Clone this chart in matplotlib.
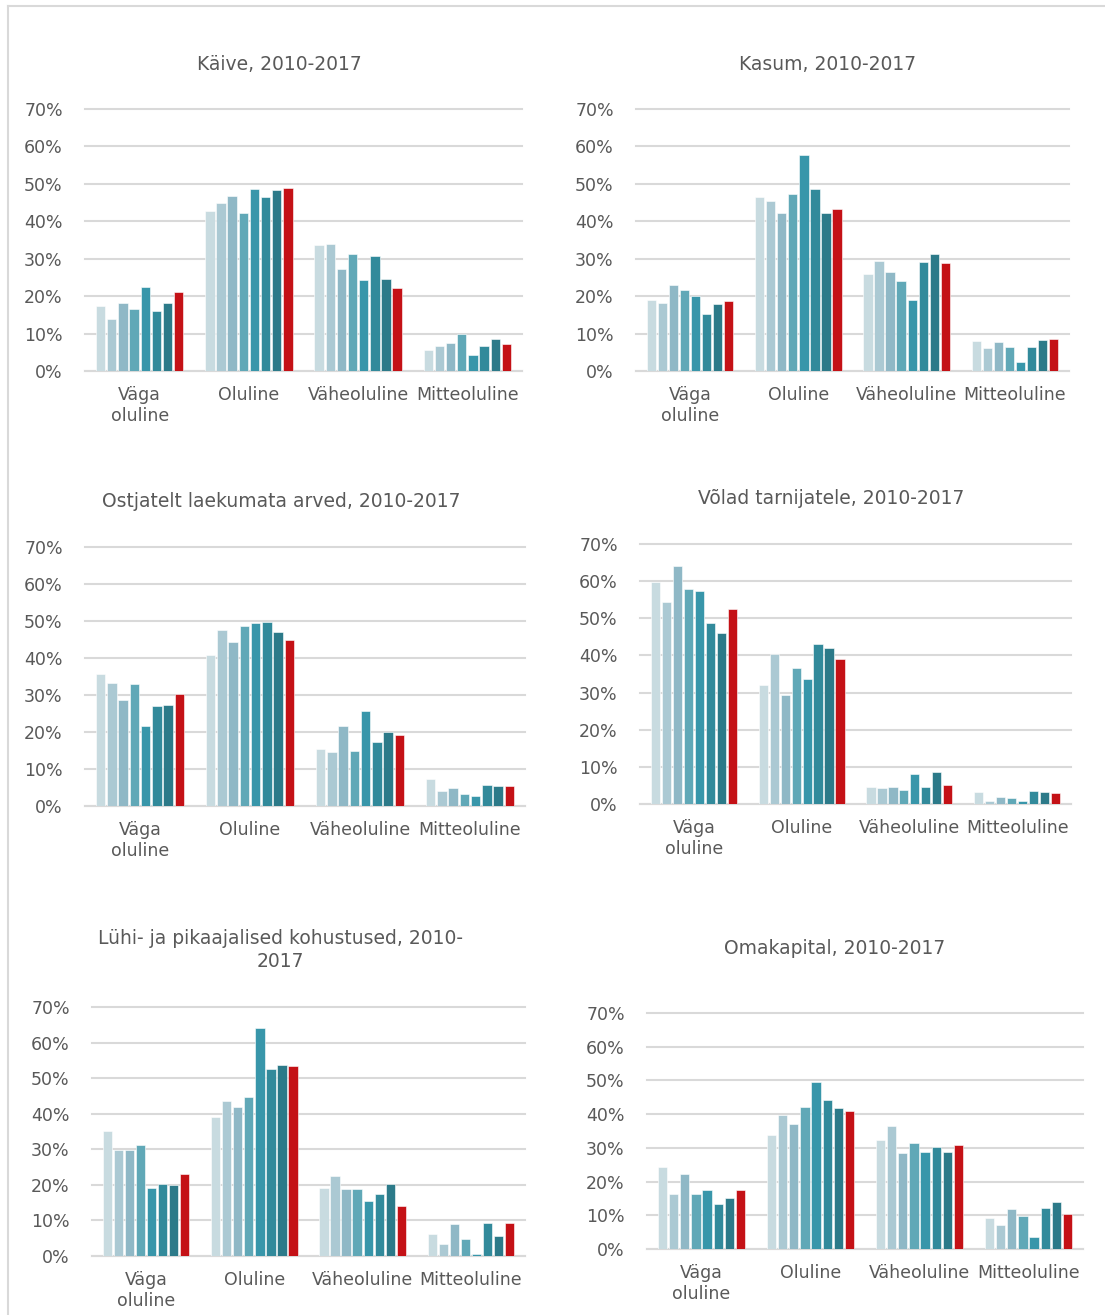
import matplotlib
matplotlib.use("Agg")
import matplotlib.pyplot as plt
import numpy as np
from matplotlib.lines import Line2D

# --- data (share of firms, %, years 2010..2017) ---
categories = ["Väga\noluline", "Oluline", "Väheoluline", "Mitteoluline"]
years = [2010, 2011, 2012, 2013, 2014, 2015, 2016, 2017]

kaive = [
    [17.4, 13.9, 18.2, 16.5, 22.4, 15.9, 18.3, 21.2],
    [42.7, 44.9, 46.7, 42.1, 48.6, 46.4, 48.4, 48.9],
    [33.7, 34.0, 27.2, 31.3, 24.2, 30.6, 24.5, 22.2],
    [5.6, 6.7, 7.5, 9.8, 4.4, 6.7, 8.5, 7.2],
]
kasum = [
    [19.1, 18.3, 22.9, 21.6, 20.0, 15.3, 17.9, 18.7],
    [46.5, 45.5, 42.3, 47.4, 57.7, 48.5, 42.2, 43.3],
    [25.8, 29.4, 26.4, 24.0, 19.1, 29.1, 31.2, 28.9],
    [7.9, 6.2, 7.7, 6.5, 2.5, 6.3, 8.2, 8.5],
]
arved = [
    [35.7, 33.2, 28.7, 32.9, 21.7, 27.1, 27.3, 30.2],
    [40.9, 47.7, 44.2, 48.6, 49.4, 49.6, 47.1, 44.8],
    [15.5, 14.5, 21.7, 14.8, 25.6, 17.2, 20.0, 19.1],
    [7.4, 4.0, 4.9, 3.2, 2.8, 5.6, 5.3, 5.5],
]
volad = [
    [59.9, 54.4, 64.0, 57.8, 57.3, 48.7, 46.0, 52.4],
    [32.1, 40.4, 29.4, 36.7, 33.6, 43.0, 42.0, 39.0],
    [4.7, 4.2, 4.6, 3.9, 8.2, 4.5, 8.6, 5.2],
    [3.2, 0.7, 1.9, 1.5, 0.9, 3.6, 3.2, 3.0],
]
kohustused = [
    [35.1, 29.7, 29.9, 31.2, 19.1, 20.3, 20.0, 23.0],
    [39.1, 43.7, 41.8, 44.6, 64.2, 52.5, 53.6, 53.4],
    [19.1, 22.5, 18.8, 18.9, 15.5, 17.5, 20.3, 14.1],
    [6.2, 3.4, 8.9, 4.8, 0.7, 9.2, 5.6, 9.2],
]
omakapital = [
    [24.3, 16.3, 22.3, 16.4, 17.6, 13.3, 15.2, 17.4],
    [33.7, 39.8, 37.0, 42.1, 49.6, 44.1, 41.8, 40.9],
    [32.3, 36.5, 28.6, 31.5, 28.9, 30.2, 28.9, 30.9],
    [9.3, 7.1, 11.8, 9.9, 3.7, 12.2, 13.8, 10.4],
]

titles = [
    "Käive, 2010-2017",
    "Kasum, 2010-2017",
    "Ostjatelt laekumata arved, 2010-2017",
    "Võlad tarnijatele, 2010-2017",
    "Lühi- ja pikaajalised kohustused, 2010-\n2017",
    "Omakapital, 2010-2017",
]
panels = [kaive, kasum, arved, volad, kohustused, omakapital]

year_colors = ["#c8dbe0", "#abc9d3", "#8fb8c6", "#60a8b7",
               "#3896aa", "#328a9b", "#2c7a89", "#c41116"]
TEXT = "#595959"
GRID = "#d9d9d9"

W, H = 1105, 1315
# plot areas in pixels: (x_left, x_right, y_zero, y_70), title (x, y)
boxes = [
    (85, 522, 371, 109, 279, 64),
    (636, 1069, 371, 109, 828, 64),
    (85, 525, 806, 547, 281, 501),
    (640, 1071, 804, 544, 831, 498),
    (92, 525, 1256, 1007, 280, 950),
    (647, 1083, 1249, 1013, 835, 948),
]

plt.rcParams["font.family"] = ["DejaVu Sans"]
fig = plt.figure(figsize=(W / 100, H / 100), dpi=100)

# outer frame (top and left edges visible)
fig.add_artist(Line2D([8 / W, 1.0], [1 - 6 / H, 1 - 6 / H], color=GRID, lw=1.5))
fig.add_artist(Line2D([8 / W, 8 / W], [0.0, 1 - 6 / H], color=GRID, lw=1.5))

x = np.arange(len(categories))
step = 0.102
for data, title, (xl, xr, y0, y70, tx, ty) in zip(panels, titles, boxes):
    ax = fig.add_axes([xl / W, 1 - y0 / H, (xr - xl) / W, (y0 - y70) / H])
    vals = np.array(data) / 100.0
    for j, yr in enumerate(years):
        ax.bar(x + (j - 3.5) * step, vals[:, j], width=step * 0.84, color=year_colors[j],
               edgecolor="white", linewidth=0.4, zorder=3, label=str(yr))
    ax.set_xlim(-0.5, len(categories) - 0.5)
    ax.set_ylim(0, 0.7)
    ax.set_yticks(np.arange(0, 0.71, 0.1))
    ax.yaxis.set_major_formatter(matplotlib.ticker.FuncFormatter(lambda v, p: f"{v * 100:.0f}%"))
    ax.set_xticks(x)
    ax.set_xticklabels(categories, linespacing=1.2)
    ax.tick_params(axis="y", length=0, pad=16, labelsize=12.5, labelcolor=TEXT)
    ax.tick_params(axis="x", length=0, pad=11, labelsize=12.5, labelcolor=TEXT)
    ax.grid(axis="y", color=GRID, lw=1.5, zorder=0)
    for gl in ax.get_ygridlines():
        gl.set_clip_on(False)
    for s in ["top", "right", "left"]:
        ax.spines[s].set_visible(False)
    ax.spines["bottom"].set_color(GRID)
    ax.spines["bottom"].set_linewidth(1.5)
    fig.text(tx / W, 1 - ty / H, title, ha="center", va="center",
             fontsize=13.5, color=TEXT, linespacing=1.3)

fig.savefig("out.png", dpi=100, facecolor="white")
